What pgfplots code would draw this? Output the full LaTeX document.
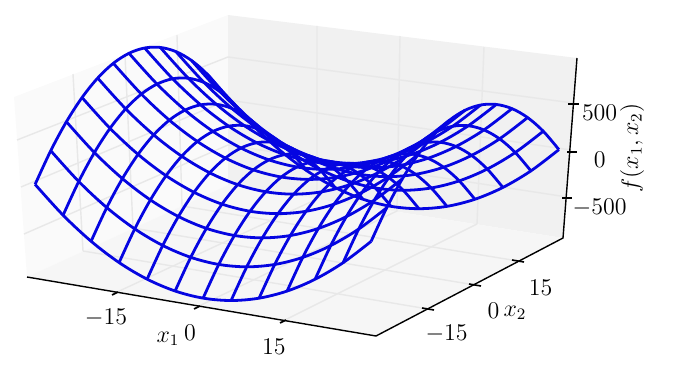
\documentclass[border=0pt]{standalone}
\usepackage{pgfplots}
\pgfplotsset{compat=1.18}
\definecolor{wire}{RGB}{5,5,225}
\definecolor{wallL}{RGB}{250,250,250}
\definecolor{wallB}{RGB}{241,241,241}
\definecolor{floorP}{RGB}{246,246,246}
\definecolor{gridc}{RGB}{232,232,232}
\tikzset{wl/.style={wire,solid,line width=1.4pt,smooth,tension=0.55,mark=none}}

\begin{document}
\begin{tikzpicture}
  \useasboundingbox (0,0) rectangle (337pt,185pt);
  % panes, in reference pixels
  \begin{scope}[x=0.5pt,y=-0.5pt,yshift=185pt]
    \fill[wallL] (27,277) -- (14,97) -- (228,15) -- (228,185) -- cycle;
    \fill[wallB] (228,185) -- (228,15) -- (577,58) -- (563,238) -- cycle;
    \fill[floorP] (27,277) -- (376,336) -- (563,238) -- (228,185) -- cycle;
    \begin{scope}[gridc,line width=0.7pt]
      \draw (83,251) -- (73,74) (133,228) -- (125,55) (182,206) -- (177,35);
      \draw (317,199) -- (317,26) (397,211) -- (400,36) (477,224) -- (484,47);
      \draw (17,140) -- (228,57) -- (573,103);
      \draw (21,187) -- (228,100) -- (571,150);
      \draw (24,234) -- (228,145) -- (567,197);
      \draw (115,293) -- (317,199) (197,307) -- (397,211) (283,321) -- (477,224);
      \draw (428,309) -- (83,251) (475,285) -- (133,228) (518,261) -- (182,206);
    \end{scope}
  \end{scope}

  \begin{axis}[
      at={(148.5pt,101.5pt)},
      anchor=origin,
      clip=false,
      x={(2.8pt,-0.475pt)},
      y={(1.565pt,0.765pt)},
      z={(0pt,0.04735pt)},
      xmin=-31, xmax=31,
      ymin=-31, ymax=31,
      zmin=-950, zmax=950,
      xtick={-15,0,15},
      ytick={-15,0,15},
      ztick={-500,0,500},
      axis line style={draw=none},
      tick style={draw=none},
      major tick length=0pt,
      xticklabel pos=lower,
      yticklabel pos=lower,
      zticklabel pos=right,
      tick label style={font=\fontsize{12}{14}\selectfont,inner sep=0pt},
      xticklabel style={anchor=center,xshift=-5pt,yshift=-14pt},
      yticklabel style={anchor=center,xshift=11.5pt,yshift=-12pt},
      zticklabel style={anchor=center,xshift=16pt,yshift=-5.5pt},
    ]
    % lines of constant x2
    \addplot3[wl] coordinates {(-30,-30,0) (-25,-30,-275) (-20,-30,-500) (-15,-30,-675) (-10,-30,-800) (-5,-30,-875) (0,-30,-900) (5,-30,-875) (10,-30,-800) (15,-30,-675) (20,-30,-500) (25,-30,-275) (30,-30,0)};
    \addplot3[wl] coordinates {(-30,-25,275) (-25,-25,0) (-20,-25,-225) (-15,-25,-400) (-10,-25,-525) (-5,-25,-600) (0,-25,-625) (5,-25,-600) (10,-25,-525) (15,-25,-400) (20,-25,-225) (25,-25,0) (30,-25,275)};
    \addplot3[wl] coordinates {(-30,-20,500) (-25,-20,225) (-20,-20,0) (-15,-20,-175) (-10,-20,-300) (-5,-20,-375) (0,-20,-400) (5,-20,-375) (10,-20,-300) (15,-20,-175) (20,-20,0) (25,-20,225) (30,-20,500)};
    \addplot3[wl] coordinates {(-30,-15,675) (-25,-15,400) (-20,-15,175) (-15,-15,0) (-10,-15,-125) (-5,-15,-200) (0,-15,-225) (5,-15,-200) (10,-15,-125) (15,-15,0) (20,-15,175) (25,-15,400) (30,-15,675)};
    \addplot3[wl] coordinates {(-30,-10,800) (-25,-10,525) (-20,-10,300) (-15,-10,125) (-10,-10,0) (-5,-10,-75) (0,-10,-100) (5,-10,-75) (10,-10,0) (15,-10,125) (20,-10,300) (25,-10,525) (30,-10,800)};
    \addplot3[wl] coordinates {(-30,-5,875) (-25,-5,600) (-20,-5,375) (-15,-5,200) (-10,-5,75) (-5,-5,0) (0,-5,-25) (5,-5,0) (10,-5,75) (15,-5,200) (20,-5,375) (25,-5,600) (30,-5,875)};
    \addplot3[wl] coordinates {(-30,0,900) (-25,0,625) (-20,0,400) (-15,0,225) (-10,0,100) (-5,0,25) (0,0,0) (5,0,25) (10,0,100) (15,0,225) (20,0,400) (25,0,625) (30,0,900)};
    \addplot3[wl] coordinates {(-30,5,875) (-25,5,600) (-20,5,375) (-15,5,200) (-10,5,75) (-5,5,0) (0,5,-25) (5,5,0) (10,5,75) (15,5,200) (20,5,375) (25,5,600) (30,5,875)};
    \addplot3[wl] coordinates {(-30,10,800) (-25,10,525) (-20,10,300) (-15,10,125) (-10,10,0) (-5,10,-75) (0,10,-100) (5,10,-75) (10,10,0) (15,10,125) (20,10,300) (25,10,525) (30,10,800)};
    \addplot3[wl] coordinates {(-30,15,675) (-25,15,400) (-20,15,175) (-15,15,0) (-10,15,-125) (-5,15,-200) (0,15,-225) (5,15,-200) (10,15,-125) (15,15,0) (20,15,175) (25,15,400) (30,15,675)};
    \addplot3[wl] coordinates {(-30,20,500) (-25,20,225) (-20,20,0) (-15,20,-175) (-10,20,-300) (-5,20,-375) (0,20,-400) (5,20,-375) (10,20,-300) (15,20,-175) (20,20,0) (25,20,225) (30,20,500)};
    \addplot3[wl] coordinates {(-30,25,275) (-25,25,0) (-20,25,-225) (-15,25,-400) (-10,25,-525) (-5,25,-600) (0,25,-625) (5,25,-600) (10,25,-525) (15,25,-400) (20,25,-225) (25,25,0) (30,25,275)};
    \addplot3[wl] coordinates {(-30,30,0) (-25,30,-275) (-20,30,-500) (-15,30,-675) (-10,30,-800) (-5,30,-875) (0,30,-900) (5,30,-875) (10,30,-800) (15,30,-675) (20,30,-500) (25,30,-275) (30,30,0)};
    % lines of constant x1
    \addplot3[wl] coordinates {(-30,-30,0) (-30,-25,275) (-30,-20,500) (-30,-15,675) (-30,-10,800) (-30,-5,875) (-30,0,900) (-30,5,875) (-30,10,800) (-30,15,675) (-30,20,500) (-30,25,275) (-30,30,0)};
    \addplot3[wl] coordinates {(-25,-30,-275) (-25,-25,0) (-25,-20,225) (-25,-15,400) (-25,-10,525) (-25,-5,600) (-25,0,625) (-25,5,600) (-25,10,525) (-25,15,400) (-25,20,225) (-25,25,0) (-25,30,-275)};
    \addplot3[wl] coordinates {(-20,-30,-500) (-20,-25,-225) (-20,-20,0) (-20,-15,175) (-20,-10,300) (-20,-5,375) (-20,0,400) (-20,5,375) (-20,10,300) (-20,15,175) (-20,20,0) (-20,25,-225) (-20,30,-500)};
    \addplot3[wl] coordinates {(-15,-30,-675) (-15,-25,-400) (-15,-20,-175) (-15,-15,0) (-15,-10,125) (-15,-5,200) (-15,0,225) (-15,5,200) (-15,10,125) (-15,15,0) (-15,20,-175) (-15,25,-400) (-15,30,-675)};
    \addplot3[wl] coordinates {(-10,-30,-800) (-10,-25,-525) (-10,-20,-300) (-10,-15,-125) (-10,-10,0) (-10,-5,75) (-10,0,100) (-10,5,75) (-10,10,0) (-10,15,-125) (-10,20,-300) (-10,25,-525) (-10,30,-800)};
    \addplot3[wl] coordinates {(-5,-30,-875) (-5,-25,-600) (-5,-20,-375) (-5,-15,-200) (-5,-10,-75) (-5,-5,0) (-5,0,25) (-5,5,0) (-5,10,-75) (-5,15,-200) (-5,20,-375) (-5,25,-600) (-5,30,-875)};
    \addplot3[wl] coordinates {(0,-30,-900) (0,-25,-625) (0,-20,-400) (0,-15,-225) (0,-10,-100) (0,-5,-25) (0,0,0) (0,5,-25) (0,10,-100) (0,15,-225) (0,20,-400) (0,25,-625) (0,30,-900)};
    \addplot3[wl] coordinates {(5,-30,-875) (5,-25,-600) (5,-20,-375) (5,-15,-200) (5,-10,-75) (5,-5,0) (5,0,25) (5,5,0) (5,10,-75) (5,15,-200) (5,20,-375) (5,25,-600) (5,30,-875)};
    \addplot3[wl] coordinates {(10,-30,-800) (10,-25,-525) (10,-20,-300) (10,-15,-125) (10,-10,0) (10,-5,75) (10,0,100) (10,5,75) (10,10,0) (10,15,-125) (10,20,-300) (10,25,-525) (10,30,-800)};
    \addplot3[wl] coordinates {(15,-30,-675) (15,-25,-400) (15,-20,-175) (15,-15,0) (15,-10,125) (15,-5,200) (15,0,225) (15,5,200) (15,10,125) (15,15,0) (15,20,-175) (15,25,-400) (15,30,-675)};
    \addplot3[wl] coordinates {(20,-30,-500) (20,-25,-225) (20,-20,0) (20,-15,175) (20,-10,300) (20,-5,375) (20,0,400) (20,5,375) (20,10,300) (20,15,175) (20,20,0) (20,25,-225) (20,30,-500)};
    \addplot3[wl] coordinates {(25,-30,-275) (25,-25,0) (25,-20,225) (25,-15,400) (25,-10,525) (25,-5,600) (25,0,625) (25,5,600) (25,10,525) (25,15,400) (25,20,225) (25,25,0) (25,30,-275)};
    \addplot3[wl] coordinates {(30,-30,0) (30,-25,275) (30,-20,500) (30,-15,675) (30,-10,800) (30,-5,875) (30,0,900) (30,5,875) (30,10,800) (30,15,675) (30,20,500) (30,25,275) (30,30,0)};
  \end{axis}

  % axis lines, ticks and axis names, in reference pixels
  \begin{scope}[x=0.5pt,y=-0.5pt,yshift=185pt]
    \draw[line width=0.7pt,line join=miter] (27,277) -- (376,336) -- (563,238) -- (577,58);
    \begin{scope}[line width=0.8pt]
      \draw (118,292) -- (112,295) (200,306) -- (194,309) (286,320) -- (280,323);
      \draw (422,308) -- (434,310) (469,284) -- (481,286) (512,260) -- (524,262);
      \draw (568,104) -- (579,104) (567,152) -- (577,152) (562,198) -- (572,198);
    \end{scope}
    \node[font=\fontsize{12}{14}\selectfont,inner sep=0pt] at (168,339) {$x_1$};
    \node[font=\fontsize{12}{14}\selectfont,inner sep=0pt] at (515,313) {$x_2$};
    \node[font=\fontsize{12}{14}\selectfont,inner sep=0pt,rotate=90] at (632,148) {$f(x_1,x_2)$};
  \end{scope}
\end{tikzpicture}
\end{document}
